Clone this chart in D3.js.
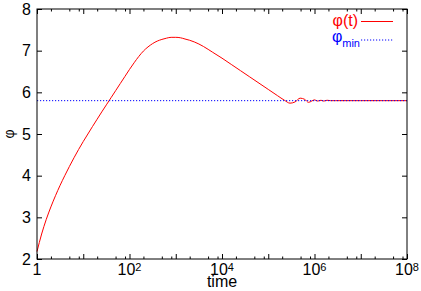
<!DOCTYPE html>
<html>
<head>
<meta charset="utf-8">
<script src="https://cdn.jsdelivr.net/npm/d3@7"></script>
<style>
  body { margin: 0; background: #fff; }
  svg { display: block; font-family: "Liberation Sans", Arial, sans-serif; }
</style>
</head>
<body>
<svg id="chart" width="421" height="291"></svg>
<script>
// ---- data ----
const logTime = [0, 0.1, 0.2, 0.3, 0.4, 0.5, 0.6, 0.7, 0.8, 0.9, 1.0, 1.1, 1.2, 1.3, 1.4, 1.5, 1.6, 1.7, 1.8, 1.9, 2.0,
  2.1, 2.2, 2.3, 2.4, 2.5, 2.6, 2.7, 2.8, 2.9, 3.0, 3.1, 3.2, 3.3, 3.4, 3.5, 3.6, 3.8, 4.0, 4.2, 4.4, 4.6, 4.8,
  5.0, 5.2, 5.35, 5.47, 5.58, 5.69, 5.79, 5.87, 5.94, 6.0, 6.07, 6.14, 6.2, 6.27, 6.35, 6.45, 6.55, 6.7, 7.0, 7.5, 8.0];
const phiValues = [2.18, 2.60, 2.95, 3.25, 3.52, 3.77, 4.00, 4.22, 4.43, 4.63, 4.82, 5.00, 5.18, 5.355, 5.53, 5.70, 5.87, 6.04, 6.21, 6.38, 6.55,
  6.71, 6.86, 6.99, 7.09, 7.17, 7.23, 7.27, 7.30, 7.32, 7.32, 7.31, 7.28, 7.25, 7.21, 7.16, 7.10, 6.96, 6.82, 6.67, 6.52, 6.37, 6.22,
  6.07, 5.92, 5.81, 5.74, 5.77, 5.86, 5.83, 5.76, 5.79, 5.82, 5.79, 5.81, 5.79, 5.81, 5.80, 5.80, 5.80, 5.80, 5.80, 5.80, 5.80];
const phiMin = 5.8;

const yTicks = [2, 3, 4, 5, 6, 7, 8];
const xDecades = [0, 1, 2, 3, 4, 5, 6, 7, 8];
const xLabelDecades = [0, 2, 4, 6, 8];
const minorMult = [2, 5, 8];

// ---- layout ----
const W = 421, H = 291;
const margin = { left: 37, right: 14, top: 9, bottom: 32 };

const svg = d3.select('#chart');

const x = d3.scaleLog()
  .domain([1, 1e8])
  .range([margin.left, W - margin.right]);
const y = d3.scaleLinear()
  .domain([2, 8])
  .range([H - margin.bottom, margin.top]);

const pts = logTime.map((lt, i) => ({ t: Math.pow(10, lt), v: phiValues[i] }));

// curve
const line = d3.line()
  .x(d => x(d.t))
  .y(d => y(d.v))
  .curve(d3.curveMonotoneX);

svg.append('path')
  .datum(pts)
  .attr('d', line)
  .attr('fill', 'none')
  .attr('stroke', '#ff0000')
  .attr('stroke-width', 1);

// phi_min
svg.append('line')
  .attr('x1', x(1)).attr('x2', x(1e8))
  .attr('y1', y(phiMin)).attr('y2', y(phiMin))
  .attr('stroke', '#0000ff')
  .attr('stroke-width', 1)
  .attr('stroke-dasharray', '1.2,1.8');

// ---- axes (gnuplot style: inward ticks, mirrored) ----
const majorVals = xDecades.map(k => Math.pow(10, k));
const minorVals = [];
xDecades.slice(0, -1).forEach(k => minorMult.forEach(m => minorVals.push(m * Math.pow(10, k))));

const axisStyle = g => {
  g.select('.domain').remove();
  g.selectAll('.tick line').attr('stroke', '#000').attr('stroke-width', 1);
};

[[d3.axisBottom, H - margin.bottom, -5], [d3.axisTop, margin.top, -5]].forEach(([ax, ty, len]) => {
  svg.append('g')
    .attr('transform', `translate(0,${ty})`)
    .call(ax(x).tickValues(majorVals).tickSize(len).tickFormat(''))
    .call(axisStyle);
  svg.append('g')
    .attr('transform', `translate(0,${ty})`)
    .call(ax(x).tickValues(minorVals).tickSize(len / 2).tickFormat(''))
    .call(axisStyle);
});

[[d3.axisLeft, margin.left], [d3.axisRight, W - margin.right]].forEach(([ax, tx]) => {
  svg.append('g')
    .attr('transform', `translate(${tx},0)`)
    .call(ax(y).tickValues(yTicks).tickSize(-5).tickFormat(''))
    .call(axisStyle);
});

// frame
svg.append('rect')
  .attr('x', margin.left).attr('y', margin.top)
  .attr('width', W - margin.left - margin.right)
  .attr('height', H - margin.top - margin.bottom)
  .attr('fill', 'none')
  .attr('stroke', '#000')
  .attr('stroke-width', 1);

// y tick labels
svg.append('g').selectAll('text')
  .data(yTicks)
  .join('text')
  .attr('x', margin.left - 6)
  .attr('y', d => y(d))
  .attr('dy', '0.36em')
  .attr('text-anchor', 'end')
  .style('font-size', '16px')
  .text(d => d);

// x tick labels with superscripts
const xl = svg.append('g').selectAll('text')
  .data(xLabelDecades)
  .join('text')
  .attr('x', d => x(Math.pow(10, d)))
  .attr('y', H - margin.bottom + 16)
  .attr('text-anchor', 'middle')
  .style('font-size', '16px');
xl.each(function (d) {
  const t = d3.select(this);
  if (d === 0) { t.text('1'); return; }
  t.append('tspan').text('10');
  t.append('tspan').attr('dy', -4).style('font-size', '11px').text(d);
});

// axis titles
svg.append('text')
  .attr('x', (margin.left + W - margin.right) / 2)
  .attr('y', 287)
  .attr('text-anchor', 'middle')
  .style('font-size', '16px')
  .text('time');

svg.append('text')
  .attr('transform', `translate(14,134) rotate(-90)`)
  .attr('text-anchor', 'middle')
  .style('font-size', '14px')
  .text('φ');

// legend
const lx1 = 361, lx2 = 393;
svg.append('text')
  .attr('x', 358).attr('y', 26)
  .attr('text-anchor', 'end')
  .attr('fill', '#ff0000')
  .style('font-size', '16px')
  .text('φ(t)');
svg.append('line')
  .attr('x1', lx1).attr('x2', lx2).attr('y1', 21.5).attr('y2', 21.5)
  .attr('stroke', '#ff0000').attr('stroke-width', 1);

const lm = svg.append('text')
  .attr('x', 360).attr('y', 42)
  .attr('text-anchor', 'end')
  .attr('fill', '#0000ff')
  .style('font-size', '16px');
lm.append('tspan').text('φ');
lm.append('tspan').attr('dy', 5).style('font-size', '11px').text('min');
svg.append('line')
  .attr('x1', lx1).attr('x2', lx2).attr('y1', 40).attr('y2', 40)
  .attr('stroke', '#0000ff').attr('stroke-width', 1)
  .attr('stroke-dasharray', '1.2,1.8');
</script>
</body>
</html>
